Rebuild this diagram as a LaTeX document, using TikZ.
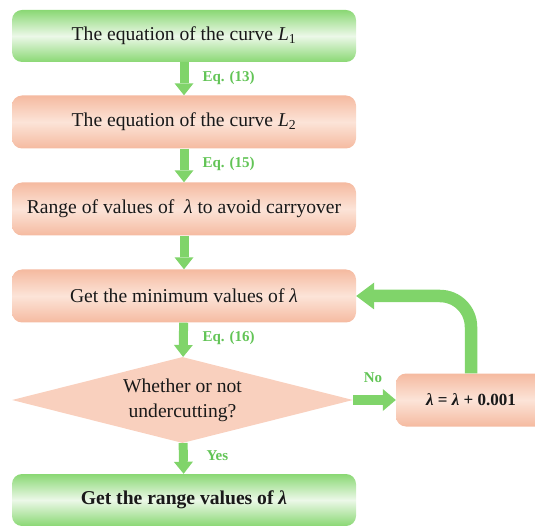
\documentclass[tikz,border=0pt]{standalone}
\usepackage{fontspec}
\setmainfont{Liberation Serif}
\usetikzlibrary{arrows.meta,shapes.geometric,calc}
\definecolor{agreen}{RGB}{128,212,106}
\definecolor{tgreen}{RGB}{98,196,86}
\definecolor{gdark}{RGB}{138,216,116}
\definecolor{glight}{RGB}{236,248,232}
\definecolor{sdark}{RGB}{245,186,160}
\definecolor{slight}{RGB}{252,228,216}
\definecolor{dfill}{RGB}{249,208,190}
\definecolor{txt}{RGB}{25,25,25}
\tikzset{
  gbox/.style={rectangle, rounded corners=10pt, minimum width=344pt, minimum height=52pt,
    top color=gdark, bottom color=gdark, middle color=glight, text=txt,
    font=\fontsize{19.6}{25}\selectfont, inner sep=0pt},
  sbox/.style={rectangle, rounded corners=10pt, minimum width=344pt, minimum height=53pt,
    top color=sdark, bottom color=sdark, middle color=slight, text=txt,
    font=\fontsize{19.6}{25}\selectfont, inner sep=0pt},
  dbox/.style={diamond, aspect=3.95, minimum width=341pt, minimum height=86pt, inner sep=0pt,
    fill=dfill, text=txt, align=center, font=\fontsize{19.6}{25}\selectfont},
  fatarrow/.style={draw=agreen, line width=9pt,
    -{Triangle[length=12pt,width=19pt,line width=0pt]}},
  backarrow/.style={draw=agreen, line width=12.5pt, rounded corners=31pt,
    -{Triangle[length=18pt,width=27pt,line width=0pt]}},
  elabel/.style={text=tgreen, font=\fontsize{15}{18}\selectfont\bfseries, anchor=west},
}
\begin{document}
\begin{tikzpicture}[x=1pt,y=-1pt]
\useasboundingbox (0,0) rectangle (535,526);
\node[gbox] (b1) at (184,36) {The equation of the curve \textit{L}\textsubscript{1}};
\node[sbox] (b2) at (184,122) {The equation of the curve \textit{L}\textsubscript{2}};
\node[sbox] (b3) at (184,209) {Range of values of \ \textit{λ} to avoid carryover};
\node[sbox] (b4) at (184,296) {Get the minimum values of \textit{λ}};
\node[dbox] (d) at (182.5,400) {Whether or not\\undercutting?};
\node[gbox, font=\fontsize{19.6}{25}\selectfont\bfseries] (b6) at (184,500) {Get the range values of \textit{λ}};
\node[sbox, minimum width=150pt, font=\fontsize{17}{20}\selectfont\bfseries] (bl) at (471,400) {\textit{λ} = \textit{λ} + 0.001};

\draw[fatarrow] (b1) -- (b2);
\draw[fatarrow] (b2) -- (b3);
\draw[fatarrow] (b3) -- (b4);
\draw[fatarrow] (b4) -- (d);
\draw[fatarrow] (d) -- (b6);
\draw[fatarrow, line width=10pt, -{Triangle[length=13pt,width=22pt,line width=0pt]}] (d.east) -- (bl.west);
\draw[backarrow] (bl.north) |- (b4.east);

\node[elabel] (l1) at (199,78) {Eq. (13)};
\node[elabel] (l2) at (199,164) {Eq. (15)};
\node[elabel] (l3) at (199,338) {Eq. (16)};
\node[elabel] (l4) at (203,456) {Yes};
\node[elabel, anchor=center] (l5) at (373,378) {No};
\end{tikzpicture}
\end{document}
